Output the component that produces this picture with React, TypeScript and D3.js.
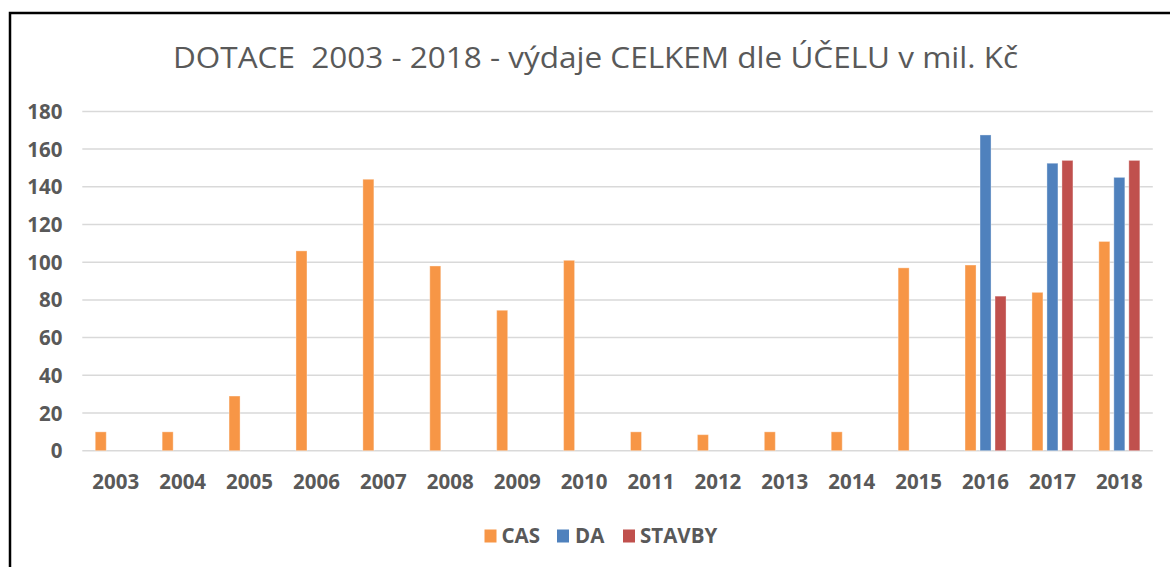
import React from "react";
import * as d3 from "d3";

const years = ["2003","2004","2005","2006","2007","2008","2009","2010","2011","2012","2013","2014","2015","2016","2017","2018"];
const seriesNames = ["CAS", "DA", "STAVBY"];
const casValues = [10, 10, 29, 106, 144, 98, 74.5, 101, 10, 8.5, 10, 10, 97, 98.5, 84, 111];
const daValues = [0, 0, 0, 0, 0, 0, 0, 0, 0, 0, 0, 0, 0, 167.5, 152.5, 145];
const stavbyValues = [0, 0, 0, 0, 0, 0, 0, 0, 0, 0, 0, 0, 0, 82, 154, 154];
const seriesColors = ["#F79646", "#4F81BD", "#C0504D"];
const yTicks = [0, 20, 40, 60, 80, 100, 120, 140, 160, 180];
const titleText = "DOTACE  2003 - 2018 - výdaje CELKEM dle ÚČELU v mil. Kč";

const W = 1170;
const H = 567;
const plot = { left: 82.3, right: 1152.8, top: 111.4, bottom: 450.7 };
const FONT = "'Open Sans', 'DejaVu Sans', sans-serif";
const GREY = "#595959";

export default function App() {
  const allSeries = [casValues, daValues, stavbyValues];
  const x = d3.scaleBand<string>().domain(years).range([plot.left, plot.right]).padding(0);
  const inner = d3.scaleBand<string>().domain(seriesNames).range([-20.5, 20.5]).paddingInner(4 / 15).paddingOuter(0);
  const y = d3.scaleLinear().domain([0, 180]).range([plot.bottom, plot.top]);

  const legendItems = [
    { name: "CAS", sq: 484.5, tx: 501.5 },
    { name: "DA", sq: 557, tx: 575 },
    { name: "STAVBY", sq: 623, tx: 640 },
  ];

  return (
    <svg width={W} height={H} style={{ position: "absolute", left: 0, top: 0, background: "#fff" }}>
      <rect x={0} y={0} width={W} height={H} fill="#fff" />
      <rect x={10} y={13} width={1300} height={700} fill="none" stroke="#000" strokeWidth={2.5} />
      <text x={173} y={68.3} textLength={845} lengthAdjust="spacingAndGlyphs" fontFamily={FONT} fontSize={30} fill={GREY} style={{ whiteSpace: "pre" }}>
        {titleText}
      </text>
      {yTicks.map((t) => (
        <g key={t}>
          <line x1={plot.left} x2={plot.right} y1={y(t)} y2={y(t)} stroke="#D9D9D9" strokeWidth={1.5} />
          <text x={62.5} y={y(t) + 7.5} textAnchor="end" fontFamily={FONT} fontWeight="bold" fontSize={20.5} fill={GREY}>
            {t}
          </text>
        </g>
      ))}
      {years.map((yr, i) => (
        <g key={yr}>
          {allSeries.map((vals, s) => {
            const v = vals[i];
            if (!v) return null;
            const cx = (x(yr) as number) + x.bandwidth() / 2;
            const bx = cx + (inner(seriesNames[s]) as number);
            return (
              <rect key={s} x={bx} y={y(v)} width={inner.bandwidth()} height={y(0) - y(v)}
                fill={seriesColors[s]} stroke="#ffffff" strokeOpacity={0.35} strokeWidth={1} />
            );
          })}
          <text x={(x(yr) as number) + x.bandwidth() / 2} y={489} textAnchor="middle" fontFamily={FONT} fontWeight="bold" fontSize={20.5} fill={GREY}>
            {yr}
          </text>
        </g>
      ))}
      {legendItems.map((it, i) => (
        <g key={it.name}>
          <rect x={it.sq} y={529.5} width={12} height={13} fill={seriesColors[i]} />
          <text x={it.tx} y={542.7} fontFamily={FONT} fontWeight="bold" fontSize={20.5} fill={GREY}>
            {it.name}
          </text>
        </g>
      ))}
    </svg>
  );
}
